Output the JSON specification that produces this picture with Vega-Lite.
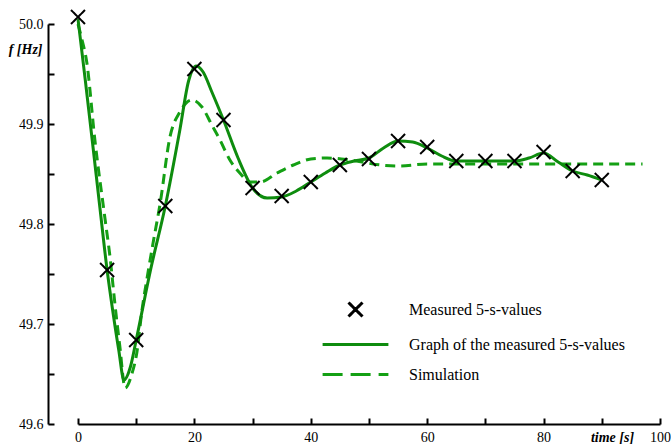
{
  "$schema": "https://vega.github.io/schema/vega-lite/v6.json",
  "width": 582,
  "height": 400,
  "autosize": {"type": "none"},
  "padding": {"left": 78, "top": 24, "right": 11, "bottom": 20},
  "background": "white",
  "config": {
    "view": {"stroke": null},
    "font": "Liberation Serif",
    "axis": {
      "grid": false,
      "domainColor": "black",
      "domainWidth": 2,
      "tickColor": "black",
      "tickWidth": 2,
      "labelColor": "black",
      "labelFont": "Liberation Serif",
      "labelFontSize": 14,
      "titleFont": "Liberation Serif",
      "titleFontSize": 14,
      "titleFontWeight": "bold",
      "titleFontStyle": "italic",
      "titleColor": "black"
    },
    "legend": {
      "title": null,
      "orient": "none",
      "legendX": 269,
      "legendY": 277,
      "padding": 0,
      "symbolSize": 196,
      "symbolStrokeWidth": 3,
      "labelOffset": 45,
      "rowPadding": 13,
      "labelFont": "Liberation Serif",
      "labelFontSize": 16,
      "labelColor": "black",
      "labelLimit": 400
    }
  },
  "datasets": {
    "measured": [
      {"t": 0, "f": 50.007, "series": "Measured 5-s-values"},
      {"t": 5, "f": 49.754, "series": "Measured 5-s-values"},
      {"t": 10, "f": 49.684, "series": "Measured 5-s-values"},
      {"t": 15, "f": 49.818, "series": "Measured 5-s-values"},
      {"t": 20, "f": 49.955, "series": "Measured 5-s-values"},
      {"t": 25, "f": 49.904, "series": "Measured 5-s-values"},
      {"t": 30, "f": 49.836, "series": "Measured 5-s-values"},
      {"t": 35, "f": 49.828, "series": "Measured 5-s-values"},
      {"t": 40, "f": 49.842, "series": "Measured 5-s-values"},
      {"t": 45, "f": 49.859, "series": "Measured 5-s-values"},
      {"t": 50, "f": 49.865, "series": "Measured 5-s-values"},
      {"t": 55, "f": 49.883, "series": "Measured 5-s-values"},
      {"t": 60, "f": 49.877, "series": "Measured 5-s-values"},
      {"t": 65, "f": 49.863, "series": "Measured 5-s-values"},
      {"t": 70, "f": 49.863, "series": "Measured 5-s-values"},
      {"t": 75, "f": 49.863, "series": "Measured 5-s-values"},
      {"t": 80, "f": 49.872, "series": "Measured 5-s-values"},
      {"t": 85, "f": 49.853, "series": "Measured 5-s-values"},
      {"t": 90, "f": 49.844, "series": "Measured 5-s-values"}
    ],
    "graph": [
      {"t": 0, "f": 50.005, "series": "Graph of the measured 5-s-values"},
      {"t": 1.25, "f": 49.944, "series": "Graph of the measured 5-s-values"},
      {"t": 2.5, "f": 49.881, "series": "Graph of the measured 5-s-values"},
      {"t": 3.75, "f": 49.817, "series": "Graph of the measured 5-s-values"},
      {"t": 5, "f": 49.754, "series": "Graph of the measured 5-s-values"},
      {"t": 6, "f": 49.712, "series": "Graph of the measured 5-s-values"},
      {"t": 7, "f": 49.674, "series": "Graph of the measured 5-s-values"},
      {"t": 7.9, "f": 49.644, "series": "Graph of the measured 5-s-values"},
      {"t": 9, "f": 49.657, "series": "Graph of the measured 5-s-values"},
      {"t": 10, "f": 49.684, "series": "Graph of the measured 5-s-values"},
      {"t": 12.5, "f": 49.755, "series": "Graph of the measured 5-s-values"},
      {"t": 15, "f": 49.818, "series": "Graph of the measured 5-s-values"},
      {"t": 17.5, "f": 49.894, "series": "Graph of the measured 5-s-values"},
      {"t": 19, "f": 49.943, "series": "Graph of the measured 5-s-values"},
      {"t": 20.3, "f": 49.958, "series": "Graph of the measured 5-s-values"},
      {"t": 21.5, "f": 49.952, "series": "Graph of the measured 5-s-values"},
      {"t": 23, "f": 49.932, "series": "Graph of the measured 5-s-values"},
      {"t": 25, "f": 49.904, "series": "Graph of the measured 5-s-values"},
      {"t": 27.5, "f": 49.866, "series": "Graph of the measured 5-s-values"},
      {"t": 30, "f": 49.836, "series": "Graph of the measured 5-s-values"},
      {"t": 32.5, "f": 49.826, "series": "Graph of the measured 5-s-values"},
      {"t": 35, "f": 49.827, "series": "Graph of the measured 5-s-values"},
      {"t": 37.5, "f": 49.833, "series": "Graph of the measured 5-s-values"},
      {"t": 40, "f": 49.842, "series": "Graph of the measured 5-s-values"},
      {"t": 42.5, "f": 49.851, "series": "Graph of the measured 5-s-values"},
      {"t": 45, "f": 49.859, "series": "Graph of the measured 5-s-values"},
      {"t": 47.5, "f": 49.863, "series": "Graph of the measured 5-s-values"},
      {"t": 50, "f": 49.866, "series": "Graph of the measured 5-s-values"},
      {"t": 52.5, "f": 49.876, "series": "Graph of the measured 5-s-values"},
      {"t": 55, "f": 49.883, "series": "Graph of the measured 5-s-values"},
      {"t": 57.5, "f": 49.882, "series": "Graph of the measured 5-s-values"},
      {"t": 60, "f": 49.876, "series": "Graph of the measured 5-s-values"},
      {"t": 62.5, "f": 49.868, "series": "Graph of the measured 5-s-values"},
      {"t": 65, "f": 49.863, "series": "Graph of the measured 5-s-values"},
      {"t": 70, "f": 49.863, "series": "Graph of the measured 5-s-values"},
      {"t": 75, "f": 49.863, "series": "Graph of the measured 5-s-values"},
      {"t": 77.5, "f": 49.866, "series": "Graph of the measured 5-s-values"},
      {"t": 80, "f": 49.871, "series": "Graph of the measured 5-s-values"},
      {"t": 82.5, "f": 49.862, "series": "Graph of the measured 5-s-values"},
      {"t": 85, "f": 49.853, "series": "Graph of the measured 5-s-values"},
      {"t": 87.5, "f": 49.849, "series": "Graph of the measured 5-s-values"},
      {"t": 90, "f": 49.844, "series": "Graph of the measured 5-s-values"}
    ],
    "sim": [
      {"t": 0, "f": 50.0, "series": "Simulation"},
      {"t": 0.7, "f": 49.984, "series": "Simulation"},
      {"t": 1.5, "f": 49.962, "series": "Simulation"},
      {"t": 2.9, "f": 49.884, "series": "Simulation"},
      {"t": 4.6, "f": 49.807, "series": "Simulation"},
      {"t": 5.5, "f": 49.767, "series": "Simulation"},
      {"t": 6.4, "f": 49.717, "series": "Simulation"},
      {"t": 7.2, "f": 49.677, "series": "Simulation"},
      {"t": 8.1, "f": 49.636, "series": "Simulation"},
      {"t": 9.3, "f": 49.651, "series": "Simulation"},
      {"t": 10.1, "f": 49.671, "series": "Simulation"},
      {"t": 11, "f": 49.714, "series": "Simulation"},
      {"t": 11.9, "f": 49.747, "series": "Simulation"},
      {"t": 12.9, "f": 49.781, "series": "Simulation"},
      {"t": 14.1, "f": 49.82, "series": "Simulation"},
      {"t": 15.8, "f": 49.887, "series": "Simulation"},
      {"t": 17.5, "f": 49.912, "series": "Simulation"},
      {"t": 19.6, "f": 49.924, "series": "Simulation"},
      {"t": 21.3, "f": 49.917, "series": "Simulation"},
      {"t": 23, "f": 49.899, "series": "Simulation"},
      {"t": 24.4, "f": 49.884, "series": "Simulation"},
      {"t": 26.1, "f": 49.864, "series": "Simulation"},
      {"t": 27.8, "f": 49.851, "series": "Simulation"},
      {"t": 29.6, "f": 49.842, "series": "Simulation"},
      {"t": 31.3, "f": 49.842, "series": "Simulation"},
      {"t": 34.2, "f": 49.851, "series": "Simulation"},
      {"t": 37, "f": 49.859, "series": "Simulation"},
      {"t": 40, "f": 49.865, "series": "Simulation"},
      {"t": 42.8, "f": 49.866, "series": "Simulation"},
      {"t": 46.7, "f": 49.864, "series": "Simulation"},
      {"t": 52, "f": 49.859, "series": "Simulation"},
      {"t": 55, "f": 49.858, "series": "Simulation"},
      {"t": 60, "f": 49.86, "series": "Simulation"},
      {"t": 70, "f": 49.86, "series": "Simulation"},
      {"t": 80, "f": 49.86, "series": "Simulation"},
      {"t": 90, "f": 49.86, "series": "Simulation"},
      {"t": 97, "f": 49.86, "series": "Simulation"}
    ]
  },
  "encoding": {
    "x": {
      "field": "t",
      "type": "quantitative",
      "scale": {"domain": [0, 100], "nice": false, "zero": false},
      "axis": {
        "title": "time [s]",
        "values": [0, 10, 20, 30, 40, 50, 60, 70, 80, 90, 100],
        "format": "d",
        "labelExpr": "datum.value % 20 === 0 ? datum.label : ''",
        "tickSize": -6,
        "labelPadding": 12,
        "labelFlush": false,
        "labelOverlap": false,
        "titleX": 534,
        "titleY": 13,
        "titleAlign": "center",
        "titleBaseline": "middle"
      }
    },
    "y": {
      "field": "f",
      "type": "quantitative",
      "scale": {"domain": [49.6, 50.0], "nice": false, "zero": false},
      "axis": {
        "title": "f [Hz]",
        "values": [49.6, 49.65, 49.7, 49.75, 49.8, 49.85, 49.9, 49.95, 50.0],
        "labelExpr": "round(datum.value * 20) % 2 === 0 ? format(datum.value, '.1f') : ''",
        "offset": 30,
        "tickSize": -6,
        "labelPadding": 11,
        "labelFlush": false,
        "labelOverlap": false,
        "titleAngle": 0,
        "titleAlign": "right",
        "titleBaseline": "middle",
        "titleX": -6,
        "titleY": 25
      }
    }
  },
  "layer": [
    {
      "data": {"name": "sim"},
      "mark": {"type": "line", "interpolate": "monotone", "strokeWidth": 3, "color": "#14a014", "strokeDash": [10, 6]},
      "encoding": {}
    },
    {
      "data": {"name": "graph"},
      "mark": {"type": "line", "interpolate": "monotone", "strokeWidth": 3, "color": "#0e8c0e"},
      "encoding": {}
    },
    {
      "data": {"name": "measured"},
      "mark": {"type": "point", "filled": false, "size": 196, "strokeWidth": 2, "opacity": 1},
      "encoding": {
        "color": {
          "field": "series",
          "type": "nominal",
          "scale": {
            "domain": ["Measured 5-s-values", "Graph of the measured 5-s-values", "Simulation"],
            "range": ["black", "#0e8c0e", "#14a014"]
          },
          "legend": {
            "encode": {
              "symbols": {
                "update": {
                  "strokeWidth": {"signal": "datum.value === 'Measured 5-s-values' ? 2 : 3"}
                }
              }
            }
          }
        },
        "shape": {
          "field": "series",
          "type": "nominal",
          "scale": {
            "domain": ["Measured 5-s-values", "Graph of the measured 5-s-values", "Simulation"],
            "range": ["M-1,-1L1,1M-1,1L1,-1", "M-4.7,0L4.7,0", "M-4.7,0L4.7,0"]
          }
        },
        "strokeDash": {
          "field": "series",
          "type": "nominal",
          "scale": {
            "domain": ["Measured 5-s-values", "Graph of the measured 5-s-values", "Simulation"],
            "range": [[1, 0], [1, 0], [20, 8]]
          }
        }
      }
    }
  ]
}
